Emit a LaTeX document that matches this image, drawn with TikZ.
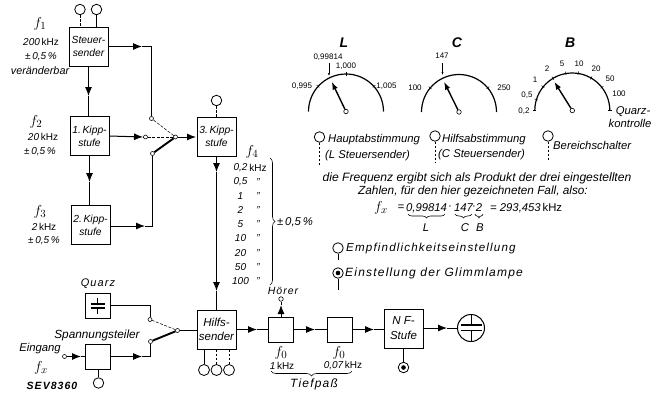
\documentclass[tikz,border=0pt]{standalone}
\usepackage{fontspec}
\setmainfont{Liberation Sans}
\newfontfamily\spaced[LetterSpace=10]{Liberation Sans}
\usepackage{amsmath}
\usetikzlibrary{arrows.meta,decorations.pathreplacing}
\newcommand{\khz}{{\upshape kHz}}
\tikzset{
  lbl/.style = {font = \fontsize{10}{11}\selectfont\itshape, inner sep = 0pt, align = center},
  big/.style = {font = \fontsize{11.3}{13}\selectfont\itshape, inner sep = 0pt, align = center},
  wide/.style = {font = \fontsize{12}{13}\selectfont\spaced\itshape, inner sep = 0pt, align = center},
  num/.style = {font = \fontsize{8}{9}\selectfont, inner sep = 0pt},
  sym/.style = {font = \fontsize{15}{15}\selectfont, inner sep = 0pt},
  box/.style = {draw, line width = .9pt, inner sep = 0pt, minimum width = #1, minimum height = #1,
    font = \fontsize{10.3}{13}\selectfont\itshape, align = center},
  box/.default = 39pt,
  contact/.style = {draw, fill = white, circle, inner sep = 0pt, minimum size = 4pt, line width = .6pt},
  knob/.style = {draw, fill = white, circle, inner sep = 0pt, minimum size = 10.5pt, line width = .8pt},
  wire/.style = {line width = 1pt},
  head/.style = {line width = 1pt, -{Latex[length = 9pt, width = 7pt]}},
  stem/.style = {line width = 1pt},
  stemd/.style = {line width = 1pt, dash pattern = on 2.5pt off 1.5pt},
  open/.style = {line width = .5pt, dash pattern = on 3pt off 1.5pt},
  closed/.style = {line width = 1.9pt},
  needle/.style = {line width = 1.4pt, -{Latex[length = 8pt, width = 5.5pt]}},
  pointer/.style = {line width = .4pt, -{Latex[length = 3pt, width = 2pt]}},
  dial/.style = {line width = 1.2pt},
  brace/.style = {line width = .6pt, decorate, decoration = {brace, amplitude = #1}},
  brace/.default = 5pt,
}
\begin{document}
\begin{tikzpicture}[x = 1pt, y = -1pt]
\useasboundingbox (0,0) rectangle (662,394);

% blocks
\node[box] (steuer) at (88.5,46.5) {Steuer-\\sender};
\node[box] (kipp1) at (89.5,136) {1.\,Kipp-\\stufe};
\node[box] (kipp2) at (90.5,225) {2.\,Kipp-\\stufe};
\node[box] (kipp3) at (216.5,136.5) {3.\,Kipp-\\stufe};
\node[box = 25pt] (quarz) at (97.5,305.5) {};
\node[box = 25pt] (teiler) at (98,356.5) {};
\node[box, font = \fontsize{11.5}{14}\selectfont\itshape] (hilfs) at (216.5,329.5) {Hilfs-\\sender};
\node[box = 25pt] (pass1) at (281,330) {};
\node[box = 25pt] (pass2) at (339.5,330) {};
\node[box, font = \fontsize{11.5}{15}\selectfont\itshape] (nf) at (403.5,328.5) {N F-\\Stufe};
\node[draw, circle, line width = 1pt, minimum size = 27pt, inner sep = 0pt] (lampe) at (471,328) {};

% upper switch
\node[contact] (polea) at (175.5,137) {};
\node[contact] (ca) at (151.5,118.5) {};
\node[contact] (cb) at (145.5,137) {};
\node[contact] (cc) at (152.5,153.5) {};
\coordinate (aa) at (142,46.5);
\coordinate (ab) at (143,137);
\coordinate (ac) at (145,226);
\coordinate (ad) at (196,137);
\draw[head] (steuer.east) -- (aa);
\draw[wire] (aa) -- (ca |- aa) -- (ca);
\draw[head] (kipp1.east) -- (ab);
\draw[wire] (ab) -- (cb);
\draw[head] (kipp2.east |- ac) -- (ac);
\draw[wire] (ac) -- (cc |- ac) -- (cc);
\draw[open] (polea) -- (ca);
\draw[open] (polea) -- (cb);
\draw[closed] (polea) -- (cc);
\draw[head] (polea) -- (ad);

% chain on the left
\coordinate (ae) at (88.5,96);
\coordinate (af) at (89.5,182);
\draw[head] (steuer.south) -- (ae);
\draw[wire] (ae) -- (ae |- kipp1.north);
\draw[head] (kipp1.south) -- (af);
\draw[wire] (af) -- (af |- kipp2.north);

% lower switch
\node[contact] (poleb) at (177.5,330.5) {};
\node[contact] (cd) at (150,319.5) {};
\node[contact] (ce) at (150.5,341.5) {};
\node[contact] (eingang) at (64.5,356.5) {};
\coordinate (ag) at (142,356.5);
\coordinate (ah) at (81,356.5);
\draw[wire] (quarz.east) -- (cd |- quarz.east) -- (cd);
\draw[head] (teiler.east) -- (ag);
\draw[wire] (ag) -- (ce |- ag) -- (ce);
\draw[head] (eingang) -- (ah);
\draw[wire] (ah) -- (teiler.west);
\draw[open] (poleb) -- (cd);
\draw[closed] (poleb) -- (ce);
\draw[wire] (poleb) -- (hilfs.west |- poleb);

% signal path
\coordinate (ai) at (216.5,172);
\coordinate (aj) at (216.5,291);
\coordinate (ak) at (257,329.5);
\coordinate (al) at (315,329.5);
\coordinate (am) at (374,329.5);
\coordinate (an) at (447,328);
\coordinate (ao) at (281,305);
\draw[head] (kipp3.south) -- (ai);
\draw[head] (ai) -- (aj);
\draw[wire] (aj) -- (hilfs.north);
\draw[head] (hilfs.east |- ak) -- (ak);
\draw[wire] (ak) -- (pass1.west |- ak);
\draw[head] (pass1.east |- al) -- (al);
\draw[wire] (al) -- (pass2.west |- al);
\draw[head] (pass2.east |- am) -- (am);
\draw[wire] (am) -- (nf.west |- am);
\draw[head] (nf.east |- an) -- (an);
\draw[wire] (an) -- (lampe.west);
\node[contact, minimum size = 4.5pt] (hoerer) at (281,299) {};
\draw[head] (pass1.north) -- (ao);
\draw[wire] (ao) -- (hoerer);

% quartz and lamp symbols
\coordinate (qa) at (97.5,298);
\coordinate (qb) at (97.5,313.5);
\draw[line width = 1.3pt] (90.5,304) -- (104.5,304) (90.5,308) -- (104.5,308);
\draw[line width = .9pt] (qa) -- (97.5,304) (97.5,308) -- (qb);
\draw[line width = 1.5pt] (460.5,325) -- (481.5,325) (460.5,330.5) -- (481.5,330.5);
\draw[line width = .8pt] (lampe.north) -- (471,325) (471,330.5) -- (lampe.south);

% knobs
\node[knob] (ka) at (80,9.5) {};
\node[knob] (kb) at (96.5,9.5) {};
\node[knob] (kc) at (216.5,100.5) {};
\node[knob] (kd) at (98.5,383) {};
\node[knob, minimum size = 11pt] (ke) at (204,370) {};
\node[knob, minimum size = 11pt] (kf) at (216.5,370) {};
\node[knob, minimum size = 11pt] (kg) at (229,370) {};
\node[knob] (kh) at (403.5,367.5) {};
\fill (kh) circle (2.3pt);
\draw[stemd] (ka) -- (ka |- steuer.north);
\draw[stem] (kb) -- (kb |- steuer.north);
\draw[stemd] (kc) -- (kc |- kipp3.north);
\draw[stem] (kd) -- (kd |- teiler.south);
\draw[stem] (ke) -- (ke |- hilfs.south);
\draw[stemd] (kf) -- (kf |- hilfs.south);
\draw[stemd] (kg) -- (kg |- hilfs.south);
\draw[stem] (kh) -- (kh |- nf.south);

% labels on the left
\node[sym] (lfa) at (40,24) {$f_1$};
\node[lbl] (lfb) at (41,42) {200\,\khz};
\node[lbl] (lfc) at (41,57) {±\,0,5\,\%};
\node[lbl, font = \fontsize{10.8}{12}\selectfont\itshape] (lfd) at (40,71) {veränderbar};
\node[sym] (lfe) at (36,122) {$f_2$};
\node[lbl] (lff) at (43,137) {20\,\khz};
\node[lbl] (lfg) at (40,152) {±\,0,5\,\%};
\node[sym] (lfh) at (40,212) {$f_3$};
\node[lbl] (lfi) at (44,227) {2\,\khz};
\node[lbl] (lfj) at (44,241) {±\,0,5\,\%};
\node[wide, font = \fontsize{11}{13}\selectfont\spaced\itshape] (lquarz) at (98,284) {Quarz};
\node[big, font = \fontsize{11.8}{13}\selectfont\itshape] (lteiler) at (97,335) {Spannungsteiler};
\node[big] (leingang) at (40,349) {Eingang};
\node[sym] (lfx) at (41,368) {$f_x$};
\node[lbl, font = \fontsize{10.5}{12}\selectfont\spaced\bfseries\itshape] (lsev) at (52,386) {SEV8360};

% list of ranges
\node[sym] (lf4) at (252,152) {$f_4$};
\node[lbl] at (258,168) {\khz};
\foreach \val [count = \i] in {{0,2},{0,5},1,2,5,10,20,50,100} {
  \node[lbl] (row\i) at (240.5,153.9 + 14.1*\i) {\val};
}
\foreach \i in {2,...,9} {
  \node[lbl] (same\i) at (258,153.9 + 14.1*\i) {"};
}
\draw[brace] (270,158) -- (270,285);
\node[big] (ltol) at (295,222) {±\,0,5\,\%};

% labels at the bottom
\node[wide, font = \fontsize{10.5}{12}\selectfont\spaced\itshape] (lhoerer) at (283,291) {Hörer};
\node[sym] (lfo) at (281,353) {$f_0$};
\node[lbl] (lpa) at (282,366) {1\,\khz};
\node[sym] (lfp) at (339,353) {$f_0$};
\node[lbl] (lpb) at (343,366) {0,07\,\khz};
\draw[brace] (352,371) -- (271,371);
\node[wide] (ltief) at (314,384) {Tiefpaß};

% dials
\foreach \name/\px/\py/\tipx in {L/346/111.5/331.7, C/459/112/444, B/572.3/110.5/554.3} {
  \node[contact, minimum size = 4.5pt] (piv\name) at (\px,\py) {};
  \coordinate (tip\name) at (\tipx,81.7);
  \draw[dial] (piv\name) ++(37.5,0) arc[start angle = 0, end angle = -180, radius = 37.5];
  \draw[needle] (piv\name) -- (tip\name);
  \node[big, font = \fontsize{14}{14}\selectfont\bfseries\itshape] (title\name) at (\px-2,43) {\name};
}
\foreach \a in {90,42,138} { \draw[line width = .5pt] (pivL) ++(-\a:36) -- ++(-\a:3.5); }
\foreach \a in {40,140} { \draw[line width = .5pt] (pivC) ++(-\a:36) -- ++(-\a:3.5); }
\foreach \a in {0,38,60,81,100,121,141,163,180} { \draw[line width = .5pt] (pivB) ++(-\a:36) -- ++(-\a:3.5); }

\coordinate (arrl) at (329,63);
\coordinate (endl) at (329,76);
\coordinate (arrc) at (442.5,63);
\coordinate (endc) at (442.5,75);
\draw[pointer] (arrl) -- (endl);
\draw[pointer] (arrc) -- (endc);
\node[num] (na) at (328,57) {0,99814};
\node[num] (nb) at (346,66.5) {1,000};
\node[num] (nc) at (386.5,86) {1,005};
\node[num] (nd) at (302,86.5) {0,995};
\node[num] (ne) at (442,56) {147};
\node[num] (nf) at (415,88) {100};
\node[num] (ng) at (504,88) {250};
\foreach \val/\nx/\ny in {{0,2}/524/111, {0,5}/527/95, 1/535/80, 2/547/69, 5/562/64, 10/579/64, 20/596/69, 50/610/79, 100/619/94} {
  \node[num] at (\nx,\ny) {\val};
}
\node[big] (lqk) at (630,117.5) {\ \ Quarz-\\kontrolle};

% key to the knobs
\node[knob] (kla) at (319.5,137) {};
\coordinate (kla2) at (319.5,165);
\node[knob] (klb) at (435,136) {};
\coordinate (klb2) at (435,162);
\node[knob] (klc) at (548,136) {};
\coordinate (klc2) at (548,161);
\node[knob] (kld) at (338,248) {};
\coordinate (kld2) at (338,260);
\node[knob] (kle) at (338,273) {};
\coordinate (kle2) at (338,290);
\fill (kle) circle (2.3pt);
\draw[stemd] (kla) -- (kla2);
\draw[stemd] (klb) -- (klb2);
\draw[stemd] (klc) -- (klc2);
\draw[stem] (kld) -- (kld2);
\draw[stem] (kle) -- (kle2);
\node[big, anchor = west] (lha) at (328,140) {Hauptabstimmung};
\node[big, anchor = west] (lhb) at (325,156) {(L Steuersender)};
\node[big, anchor = west] (lhc) at (442,140) {Hilfsabstimmung};
\node[big, anchor = west] (lhd) at (438,155) {(C Steuersender)};
\node[big, anchor = west] (lhe) at (553,145) {Bereichschalter};
\node[wide, anchor = west, font = \fontsize{11.6}{13}\selectfont\spaced\itshape] (lhf) at (346,248) {Empfindlichkeitseinstellung};
\node[wide, anchor = west] (lhg) at (345,273) {Einstellung der Glimmlampe};

% the formula
\node[big, font = \fontsize{12.1}{13}\selectfont\itshape] (tone) at (477,178) {die Frequenz ergibt sich als Produkt der drei eingestellten};
\node[big, font = \fontsize{11.8}{13}\selectfont\itshape] (ttwo) at (473,191) {Zahlen, für den hier gezeichneten Fall, also:};
\node[sym] (ffx) at (381,208) {$f_x$};
\node[big] (feq) at (401,208) {=};
\node[big] (fa) at (426.5,208) {0,99814};
\node[big] (fdota) at (450,208) {·};
\node[big] (fb) at (463.5,208) {147};
\node[big] (fdotb) at (474,208) {·};
\node[big] (fc) at (479,208) {2};
\node[big, anchor = west] (fd) at (490,208) {= 293,453\,\khz};
\draw[brace = 4pt] (445,214) -- (408,214);
\draw[brace = 4pt] (472,214) -- (455,214);
\draw[brace = 4pt] (483,214) -- (475,214);
\node[big] (fl) at (426,228) {L};
\node[big] (fm) at (465,228) {C};
\node[big] (fn) at (480,228) {B};
\end{tikzpicture}
\end{document}
